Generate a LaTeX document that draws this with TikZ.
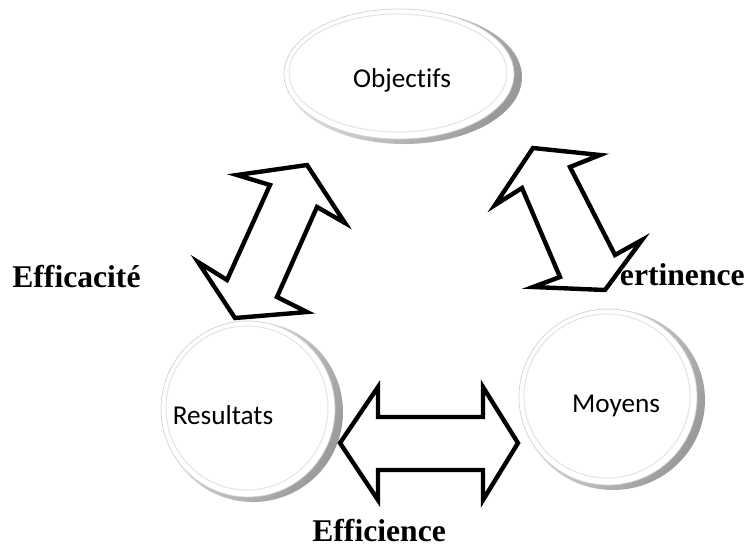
\documentclass[tikz,border=0pt]{standalone}
\usepackage{fontspec}
\setmainfont{Liberation Serif}
\newfontfamily\carlito[Ligatures=NoCommon]{Carlito}
\usetikzlibrary{calc}
\def\bulle(#1)(#2:#3){%
  \shade[left color=gray!15, right color=gray!80, shading angle=60] ($(#1)+(3,2)$) ellipse ({#2} and {#3});
  \fill[white, draw=gray!35, line width=0.4pt] ($(#1)+(-2,-1)$) ellipse ({#2-3} and {#3-2});
  \draw[gray!20, line width=0.6pt] ($(#1)+(-3,-2)$) ellipse ({#2-9} and {#3-8});}
\tikzset{
  bloc/.style={draw=black, fill=white, line width=2.5pt},
  cercle/.style={font=\carlito\fontsize{15.5}{18}\selectfont, inner sep=0pt},
  titre/.style={font=\bfseries\fontsize{18}{21}\selectfont, inner sep=0pt}
}
\begin{document}
\begin{tikzpicture}[x=0.02cm, y=-0.02cm]
			%%%%% START %%%%%
			\useasboundingbox (0, 0) rectangle (747, 548);
			
			\bulle(401, 75)(118:67)
			\node[cercle] (objectifs) at (402, 80) {Objectifs};
			
			\bulle(250, 410)(90:90)
			\node[cercle] (resultats) at (223, 415) {Resultats};
			
			\bulle(610, 398)(92:90)
			\node[cercle] (moyens) at (616, 406) {Moyens};
			
			\node[titre, anchor=base west] (efficacite) at (12, 287) {Efficacité};
			\node[titre, anchor=base east] (pertinence) at (745, 285) {Pertinence};
			\node[titre, anchor=base west] (efficience) at (312, 541) {Efficience};
			
			% objectifs <-> resultats
			\draw[bloc] (307, 165) -- (345, 223) -- (317, 207) -- (277, 297) -- (307, 312)
			  -- (235, 318) -- (198, 262) -- (227, 280) -- (270, 185) -- (237, 175) -- cycle;
			% objectifs <-> moyens
			\draw[bloc] (533, 148) -- (600, 155) -- (570, 167) -- (615, 255) -- (642, 240)
			  -- (605, 290) -- (533, 287) -- (560, 277) -- (522, 188) -- (495, 205) -- cycle;
			% resultats <-> moyens
			\draw[bloc] (340, 443) -- (378, 387) -- (378, 417) -- (483, 417) -- (483, 387)
			  -- (518, 443) -- (483, 500) -- (483, 470) -- (378, 470) -- (378, 500) -- cycle;
			%%%%% END %%%%%
\end{tikzpicture}
\end{document}
